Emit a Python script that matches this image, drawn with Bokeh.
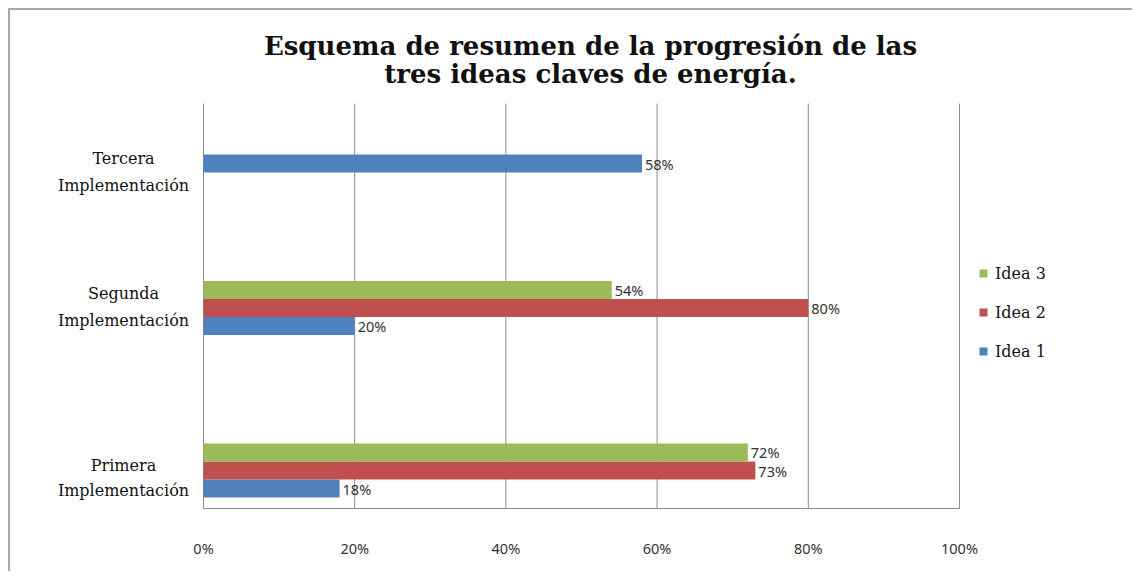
from bokeh.plotting import figure
from bokeh.models import Range1d, Legend, LegendItem
from bokeh.core.properties import value
from bokeh.embed import file_html
from bokeh.resources import INLINE
import math

categories = ["Primera Implementación", "Segunda Implementación", "Tercera Implementación"]
series_names = ["Idea 1", "Idea 2", "Idea 3"]
idea1 = [18, 20, 58]
idea2 = [73, 80, float("nan")]
idea3 = [72, 54, float("nan")]
series_values = [idea1, idea2, idea3]
colors = ["#4F81BD", "#C0504D", "#9BBB59"]
x_ticks = [0, 20, 40, 60, 80, 100]
x_tick_labels = ["0%", "20%", "40%", "60%", "80%", "100%"]
title_lines = ["Esquema de resumen de la progresión de las", "tres ideas claves de energía."]

# layout (data units of the full-canvas frame)
cat_pos = [0.5, 1.5, 2.5]
bar_h = 0.111
offsets = [-bar_h, 0.0, bar_h]
area_bottom, area_top = 0.266, 2.758
cat_label_y = [(0.531, 0.377), (1.589, 1.423), (2.420, 2.254)]
title_y = [3.115, 2.943]

p = figure(width=1124, height=563, output_backend="svg", toolbar_location=None,
           x_range=Range1d(-25.53, 123.15), y_range=Range1d(-0.1338, 3.3308),
           min_border=0)
p.styles = {"margin-left": "8px", "margin-top": "8px",
            "border-left": "2px solid #a8a8a8", "border-top": "2px solid #a8a8a8"}
p.outline_line_color = None
p.axis.visible = False
p.grid.visible = False

# gridlines and axis line
p.segment(x0=x_ticks, x1=x_ticks, y0=[area_bottom] * len(x_ticks), y1=[area_top] * len(x_ticks),
          line_color="#8c8c8c", line_width=1)
p.segment(x0=[0], x1=[100], y0=[area_bottom], y1=[area_bottom], line_color="#8c8c8c", line_width=1)

# x tick labels
p.text(x=x_ticks, y=[area_bottom] * len(x_ticks), text=x_tick_labels, y_offset=39,
       text_align="center", text_baseline="middle", text_font=value("Noto Sans"),
       text_font_size="14.5px", text_color="#333333")

renderers = []
for vals, off, col in zip(series_values, offsets, colors):
    ys = [c + off for c in cat_pos]
    r = p.hbar(y=ys, right=vals, left=0, height=bar_h, fill_color=col, line_color=None)
    renderers.append(r)
    lx = [v for v in vals if not math.isnan(v)]
    ly = [y for v, y in zip(vals, ys) if not math.isnan(v)]
    lt = ["%d%%" % v for v in lx]
    p.text(x=lx, y=ly, text=lt, x_offset=3, text_baseline="middle", text_align="left",
           text_font=value("Noto Sans"), text_font_size="14.5px", text_color="#333333")

# category labels, two lines each
lx, ly, lt = [], [], []
for cat, (y1, y2) in zip(categories, cat_label_y):
    w1, w2 = cat.split(" ")
    lx += [0, 0]
    ly += [y1, y2]
    lt += [w1, w2]
p.text(x=lx, y=ly, text=lt, x_offset=-80, text_align="center", text_baseline="middle",
       text_font=value("DejaVu Serif"), text_font_size="16px", text_color="#111111")

# title
p.text(x=[50, 50], y=title_y, text=title_lines, x_offset=9, text_align="center",
       text_baseline="middle", text_font=value("DejaVu Serif"), text_font_style="bold",
       text_font_size="26px", text_color="#111111")

legend = Legend(items=[LegendItem(label=n, renderers=[r]) for n, r in
                       reversed(list(zip(series_names, renderers)))],
                location=(968, 212))
legend.glyph_width = 10
legend.glyph_height = 10
legend.label_standoff = 7
legend.spacing = 19
legend.label_height = 20
legend.label_text_font = "DejaVu Serif"
legend.label_text_font_size = "16px"
legend.label_text_color = "#111111"
legend.border_line_color = None
legend.background_fill_alpha = 0
p.add_layout(legend, "center")

open("out.html", "w").write(file_html(p, INLINE))
